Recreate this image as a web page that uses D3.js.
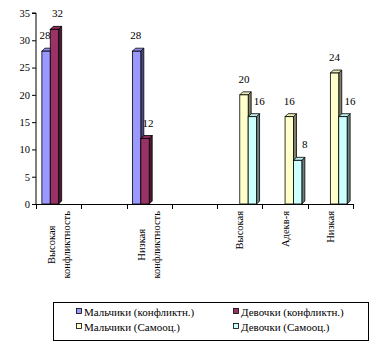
<!DOCTYPE html>
<html><head><meta charset="utf-8">
<script src="https://cdn.jsdelivr.net/npm/d3@7/dist/d3.min.js"></script>
<style>body{margin:0;background:#fff}svg{display:block}</style>
</head><body>
<svg id="c" width="383" height="347"></svg>
<script>
const categories = ["Высокая конфликтность", "", "Низкая конфликтность", "", "Высокая", "Адекв-я", "Низкая"];
const seriesNames = ["Мальчики (конфликтн.)", "Девочки (конфликтн.)", "Мальчики (Самооц.)", "Девочки (Самооц.)"];
const boysConflict  = [28, null, 28, null, null, null, null];
const girlsConflict = [32, null, 12, null, null, null, null];
const boysSelf      = [null, null, null, null, 20, 16, 24];
const girlsSelf     = [null, null, null, null, 16, 8, 16];
const yTicks = [0, 5, 10, 15, 20, 25, 30, 35];

const FONT = "Liberation Serif";
const seriesValues = [boysConflict, girlsConflict, boysSelf, girlsSelf];
const fronts = ["#9999FF", "#993366", "#FFFFCC", "#CCFFFF"];
const tops   = ["#8c8ceb", "#8a2e5c", "#ebebbb", "#bbebeb"];
const sides  = ["#4d4d80", "#4d1a33", "#80806a", "#6a8080"];
const labelDx = [-1, 3, 0, 7];

const svg = d3.select("#c");
const x = d3.scaleBand().domain(d3.range(categories.length)).range([36, 353]).paddingInner(0).paddingOuter(0);
const xs = d3.scaleBand().domain(d3.range(4)).range([0, x.bandwidth()]).paddingInner(0).paddingOuter(0.7);
const y = d3.scaleLinear().domain([0, 35]).range([204, 13]);
const d = 3;

// y axis
const ya = svg.append("g").attr("transform", "translate(36,0)")
  .call(d3.axisLeft(y).tickValues(yTicks).tickSize(4).tickPadding(2));
ya.attr("font-family", FONT);
ya.select(".domain").attr("stroke", "#000").attr("d", `M-4,${y(35)}H0V${y(0)}`);
ya.selectAll("text").attr("font-size", 10.5).attr("fill", "#000").style("font-family", FONT);
ya.selectAll("line").attr("stroke", "#000");

// x axis
svg.append("line").attr("x1", 36).attr("x2", 353).attr("y1", y(0) + 0.5).attr("y2", y(0) + 0.5).attr("stroke", "#000");
const bounds = d3.range(categories.length + 1).map(i => i < categories.length ? x(i) : x(categories.length - 1) + x.bandwidth());
svg.selectAll(".xt").data(bounds).enter().append("line")
  .attr("x1", b => Math.round(b) + 0.5).attr("x2", b => Math.round(b) + 0.5)
  .attr("y1", y(0)).attr("y2", y(0) + 5).attr("stroke", "#000");

// bars
seriesValues.forEach((vals, s) => {
  vals.forEach((v, i) => {
    if (v == null) return;
    const x0 = x(i) + xs(s), w = xs.bandwidth(), yt = y(v), yb = y(0);
    const g = svg.append("g");
    g.append("polygon").attr("points", `${x0+w},${yt} ${x0+w+d},${yt-d} ${x0+w+d},${yb-d} ${x0+w},${yb}`)
      .attr("fill", sides[s]).attr("stroke", "#000").attr("stroke-width", 0.8);
    g.append("polygon").attr("points", `${x0},${yt} ${x0+d},${yt-d} ${x0+w+d},${yt-d} ${x0+w},${yt}`)
      .attr("fill", tops[s]).attr("stroke", "#000").attr("stroke-width", 0.8);
    g.append("rect").attr("x", x0).attr("y", yt).attr("width", w).attr("height", yb - yt)
      .attr("fill", fronts[s]).attr("stroke", "#000").attr("stroke-width", 0.8);
    svg.append("text").attr("x", x0 + w / 2 + labelDx[s]).attr("y", yt - 12)
      .attr("text-anchor", "middle").attr("font-size", 11).attr("fill", "#000").style("font-family", FONT).text(v);
  });
});

// category labels (rotated)
categories.forEach((c, i) => {
  if (!c) return;
  const lines = c.split(" ");
  const cx = x(i) + x.bandwidth() / 2;
  const g = svg.append("g");
  const texts = lines.map((l, k) => g.append("text").attr("font-size", 10.5).attr("fill", "#000")
    .style("font-family", FONT)
    .attr("text-anchor", "middle").attr("dominant-baseline", "central").text(l));
  const maxW = d3.max(texts, t => t.node().getComputedTextLength());
  const cy = 211 + maxW / 2;
  texts.forEach((t, k) => {
    const lx = cx + (k - (lines.length - 1) / 2) * 15;
    t.attr("transform", `translate(${lx},${cy}) rotate(-90)`);
  });
});

// legend
svg.append("rect").attr("x", 53.5).attr("y", 302.5).attr("width", 315).attr("height", 38)
  .attr("fill", "#fff").attr("stroke", "#000").attr("stroke-width", 1);
const legPos = [[76, 312], [233, 312], [76, 327], [233, 327]];
seriesNames.forEach((n, s) => {
  const [lx, ly] = legPos[s];
  svg.append("rect").attr("x", lx + 0.5).attr("y", ly - 3.5).attr("width", 5).attr("height", 5)
    .attr("fill", fronts[s]).attr("stroke", "#000").attr("stroke-width", 0.8);
  svg.append("text").attr("x", lx + 8).attr("y", ly + 3.5).attr("font-size", 11).attr("fill", "#000")
    .style("font-family", FONT).text(n);
});
</script>
</body></html>
